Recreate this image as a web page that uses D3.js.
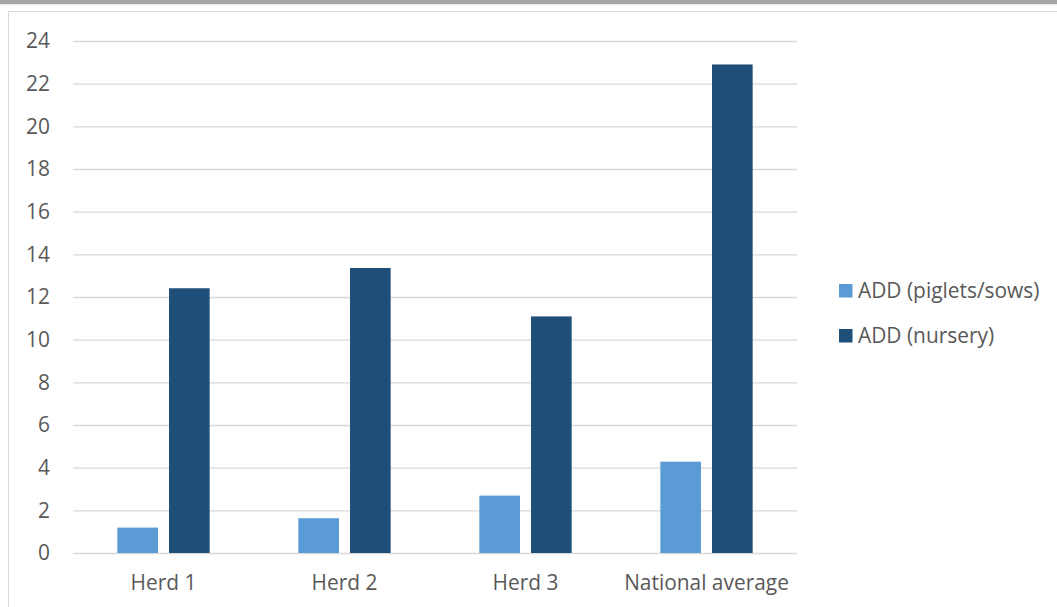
<!DOCTYPE html>
<html>
<head>
<meta charset="utf-8">
<script src="https://cdn.jsdelivr.net/npm/d3@7"></script>
<style>
  html, body { margin: 0; padding: 0; background: #ffffff; }
  svg { display: block; }
</style>
</head>
<body>
<svg id="chart" width="1057" height="607"></svg>
<script>
// Antimicrobial use (ADD) per herd
const categories = ["Herd 1", "Herd 2", "Herd 3", "National average"];
const seriesNames = ["ADD (piglets/sows)", "ADD (nursery)"];
const pigletsSows = [1.19, 1.63, 2.69, 4.28];
const nursery = [12.41, 13.36, 11.09, 22.9];
const yTicks = [0, 2, 4, 6, 8, 10, 12, 14, 16, 18, 20, 22, 24];
const colors = ["#5b9bd5", "#1f4e79"];

const W = 1057, H = 607;
const plot = { left: 73, right: 797, top: 41, bottom: 553 };
const font = "'Open Sans', 'Noto Sans', sans-serif";
const fontSize = "20.9px";
const textColor = "#595959";

const svg = d3.select("#chart");

// page strip and chart frame
svg.append("rect").attr("x", 0).attr("y", 0).attr("width", W).attr("height", 4).attr("fill", "#a6a6a6");
svg.append("line").attr("x1", 0).attr("x2", W).attr("y1", 4.8).attr("y2", 4.8)
  .attr("stroke", "#e6e6e6").attr("stroke-width", 1);
svg.append("rect").attr("x", 8.5).attr("y", 11.5).attr("width", W + 10).attr("height", H + 10)
  .attr("fill", "#ffffff").attr("stroke", "#d9d9d9").attr("stroke-width", 1);

const y = d3.scaleLinear().domain([0, 24]).range([plot.bottom, plot.top]);
const x0 = d3.scaleBand().domain(categories).range([plot.left, plot.right])
  .paddingInner(0.49).paddingOuter(0.245);
const x1 = d3.scaleBand().domain(seriesNames).range([0, x0.bandwidth()])
  .paddingInner(0.213).paddingOuter(0);

// horizontal gridlines
const yAxis = d3.axisLeft(y).tickValues(yTicks).tickSize(-(plot.right - plot.left)).tickPadding(23);
const gy = svg.append("g").attr("transform", `translate(${plot.left},0)`).call(yAxis);
gy.select(".domain").remove();
gy.selectAll(".tick line").attr("stroke", "#d9d9d9").attr("stroke-width", 1.3);
gy.selectAll(".tick text").attr("fill", textColor).attr("font-family", font)
  .attr("font-size", fontSize).attr("text-anchor", "end");

// bars
const rows = categories.map((c, i) => ({ cat: c, values: [pigletsSows[i], nursery[i]] }));
const groups = svg.append("g").selectAll("g").data(rows).join("g")
  .attr("transform", d => `translate(${x0(d.cat)},0)`);
groups.selectAll("rect").data(d => d.values.map((v, k) => ({ name: seriesNames[k], v, k })))
  .join("rect")
  .attr("x", d => x1(d.name))
  .attr("width", x1.bandwidth())
  .attr("y", d => y(d.v))
  .attr("height", d => y(0) - y(d.v))
  .attr("fill", d => colors[d.k]);

// category axis labels
const xAxis = d3.axisBottom(x0).tickSize(0).tickPadding(22);
const gx = svg.append("g").attr("transform", `translate(0,${plot.bottom})`).call(xAxis);
gx.select(".domain").remove();
gx.selectAll(".tick text").attr("fill", textColor).attr("font-family", font).attr("font-size", fontSize);

// legend
const legend = svg.append("g").attr("transform", "translate(839,284)");
const items = legend.selectAll("g").data(seriesNames).join("g")
  .attr("transform", (d, i) => `translate(0,${i * 45})`);
items.append("rect").attr("width", 13.5).attr("height", 13.5).attr("fill", (d, i) => colors[i]);
items.append("text").attr("x", 19).attr("y", 7).attr("dy", "0.35em")
  .attr("fill", textColor).attr("font-family", font).attr("font-size", fontSize).text(d => d);
</script>
</body>
</html>
